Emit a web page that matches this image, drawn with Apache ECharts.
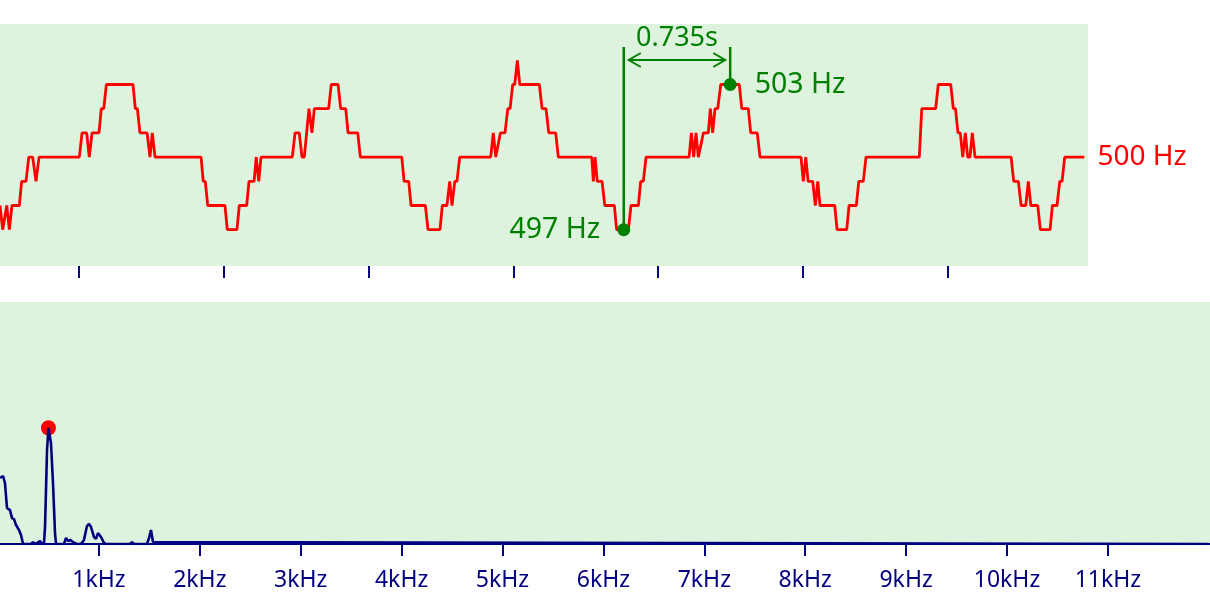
<!DOCTYPE html>
<html><head><meta charset="utf-8">
<script src="https://cdn.jsdelivr.net/npm/echarts@6/dist/echarts.min.js"></script>
<style>html,body{margin:0;padding:0;background:#fff}#c{width:1210px;height:605px}</style>
</head><body><div id="c"></div>
<script>
// ---- pitch track (seconds, Hz) ----
const pitchTimes = [0.454,0.473,0.501,0.519,0.537,0.588,0.604,0.634,0.653,0.680,0.703,0.724,1.002,1.021,1.053,1.071,1.090,1.138,1.154,1.171,1.189,1.373,1.389,1.403,1.421,1.470,1.490,1.506,1.525,1.843,1.858,1.872,1.889,2.008,2.024,2.091,2.107,2.158,2.174,2.209,2.224,2.241,2.257,2.473,2.492,2.521,2.540,2.556,2.588,2.609,2.625,2.724,2.742,2.789,2.807,2.842,2.858,2.925,2.943,3.229,3.245,3.277,3.293,3.392,3.410,3.493,3.509,3.541,3.560,3.576,3.595,3.610,3.629,3.843,3.861,3.878,3.910,3.942,3.961,3.977,3.995,4.009,4.027,4.044,4.179,4.198,4.225,4.244,4.292,4.310,4.541,4.552,4.564,4.579,4.612,4.631,4.697,4.713,4.794,4.812,4.863,4.879,4.897,4.916,5.213,5.229,5.245,5.261,5.277,5.312,5.346,5.360,5.376,5.392,5.411,5.432,5.560,5.577,5.622,5.639,5.684,5.703,5.986,6.002,6.019,6.035,6.067,6.085,6.102,6.117,6.219,6.235,6.302,6.318,6.368,6.385,6.416,6.435,6.803,6.820,6.916,6.934,7.020,7.038,7.053,7.070,7.086,7.103,7.121,7.137,7.153,7.169,7.188,7.437,7.455,7.487,7.506,7.538,7.556,7.573,7.621,7.639,7.706,7.722,7.754,7.773,7.789,7.807,7.943];
const pitchHz = [498,497,498,497,498,498,499,499,500,500,499,500,500,501,501,500,501,501,502,502,503,503,502,502,501,501,500,501,500,500,499,499,498,498,497,497,498,498,499,499,500,499,500,500,501,501,500,500,502,501,502,502,503,503,502,502,501,501,500,500,499,499,498,498,497,497,498,498,499,498,499,499,500,500,501,500,501,501,502,502,503,503,504,503,503,502,502,501,501,500,500,499,500,499,499,498,498,497,497,498,498,499,499,500,500,501,500,501,500,501,501,502,501,502,502,503,503,502,502,501,501,500,500,499,500,499,499,498,499,498,498,497,497,498,498,499,499,500,500,502,502,503,503,502,502,501,501,500,501,500,500,501,500,500,499,499,498,498,499,498,498,497,497,498,498,499,499,500,500];
const pitchTicks = [1,2,3,4,5,6,7];
const baseLabel = '500 Hz';
// measured extremes
const markTimes = [4.762, 5.497];
const markHz = [497, 503];
// ---- spectrum (kHz, amplitude) ----
const specKHz = [0.020,0.050,0.069,0.089,0.099,0.119,0.139,0.159,0.178,0.208,0.228,0.248,0.327,0.347,0.367,0.416,0.436,0.456,0.466,0.486,0.500,0.525,0.545,0.565,0.575,0.654,0.674,0.694,0.714,0.743,0.783,0.823,0.852,0.882,0.902,0.922,0.951,0.971,0.991,1.021,1.051,1.071,1.308,1.328,1.348,1.477,1.497,1.516,1.536,1.546,12.0];
const specAmp = [27.3,28.1,25.2,14.9,14.9,14.0,10.7,10.3,7.9,5.8,3.7,0,0,0.8,0,1.2,0,0.4,7.0,38.8,47.9,41.7,25.2,4.5,0,0,2.5,1.2,1.7,0.8,0,0,1.7,7.4,8.3,7.0,2.9,2.1,4.5,2.9,0.4,0,0,0.8,0,0,2.5,5.8,0.8,0,0];
const peakKHz = 0.5, peakAmp = 48;
const freqTicks = [1,2,3,4,5,6,7,8,9,10,11];
const freqUnit = 'kHz';

const FONT = '"Noto Sans", "Open Sans", sans-serif';
const NAVY = '#000080', GREEN = '#008000', RED = '#ff0000', BG = '#def3de';

const chart = echarts.init(document.getElementById('c'), null, {renderer: 'canvas'});
const pitchData = pitchTimes.map((t, i) => [t, pitchHz[i]]);
const specData = specKHz.map((f, i) => [f, specAmp[i]]);

chart.setOption({
  animation: false,
  grid: [
    {left: 0, top: 24, width: 1088, height: 242, show: true, backgroundColor: BG, borderWidth: 0},
    {left: 0, top: 302, width: 1210, height: 242, show: true, backgroundColor: BG, borderWidth: 0}
  ],
  xAxis: [
    {type: 'value', gridIndex: 0, min: 0.4544, max: 7.968,
     axisLine: {show: false}, splitLine: {show: false}, axisLabel: {show: false},
     axisTick: {show: true, length: 12, customValues: pitchTicks, lineStyle: {color: NAVY, width: 2}}},
    {type: 'value', gridIndex: 1, min: 0.0198, max: 12.012,
     axisLine: {show: true, lineStyle: {color: NAVY, width: 2}}, splitLine: {show: false},
     axisTick: {show: true, length: 12, customValues: freqTicks, lineStyle: {color: NAVY, width: 2}},
     axisLabel: {show: true, customValues: freqTicks, margin: 25, color: NAVY, fontSize: 23, fontFamily: FONT,
       formatter: v => v + freqUnit}}
  ],
  yAxis: [
    {type: 'value', gridIndex: 0, min: 495.5, max: 505.5, show: false},
    {type: 'value', gridIndex: 1, min: 0, max: 100, show: false}
  ],
  series: [
    {type: 'line', xAxisIndex: 0, yAxisIndex: 0, data: pitchData, showSymbol: false, symbol: 'none', z: 2,
     lineStyle: {color: RED, width: 2.8}, clip: false,
     endLabel: {show: true, formatter: baseLabel, color: RED, fontSize: 28, fontFamily: FONT, distance: 13}},
    {type: 'custom', xAxisIndex: 0, yAxisIndex: 0, z: 3, clip: false,
     data: [[markTimes[0], markHz[0], markTimes[1], markHz[1]]],
     encode: {x: [0, 2], y: [1, 3]},
     renderItem: function (params, api) {
       const a = api.coord([api.value(0), api.value(1)]);
       const b = api.coord([api.value(2), api.value(3)]);
       const top = params.coordSys.y + 23;
       const ay = params.coordSys.y + 36;
       const la = a[0] + 5, rb = b[0] - 5;
       const ls = {stroke: GREEN, lineWidth: 2.5};
       const ls2 = {stroke: GREEN, lineWidth: 2, fill: null};
       return {type: 'group', children: [
         {type: 'line', shape: {x1: a[0], y1: top, x2: a[0], y2: a[1]}, style: ls},
         {type: 'line', shape: {x1: b[0], y1: top, x2: b[0], y2: b[1]}, style: ls},
         {type: 'line', shape: {x1: la, y1: ay, x2: rb, y2: ay}, style: ls2},
         {type: 'polyline', shape: {points: [[la + 12, ay - 7], [la, ay], [la + 12, ay + 7]]}, style: ls2},
         {type: 'polyline', shape: {points: [[rb - 12, ay - 7], [rb, ay], [rb - 12, ay + 7]]}, style: ls2},
         {type: 'text', style: {text: (api.value(2) - api.value(0)).toFixed(3) + 's',
           x: (a[0] + b[0]) / 2, y: ay - 22, align: 'center', verticalAlign: 'middle',
           fill: GREEN, fontSize: 27, fontFamily: FONT}}
       ]};
     }},
    {type: 'scatter', xAxisIndex: 0, yAxisIndex: 0, z: 4, symbolSize: 13,
     itemStyle: {color: GREEN, opacity: 1},
     data: markTimes.map((t, i) => ({value: [t, markHz[i]],
       label: {show: true, position: i === 0 ? 'left' : 'right', distance: i === 0 ? 17 : 18,
         formatter: markHz[i] + ' Hz', color: GREEN, opacity: 1, fontSize: 28.5, fontFamily: FONT}}))},
    {type: 'scatter', xAxisIndex: 1, yAxisIndex: 1, z: 1, symbolSize: 15,
     itemStyle: {color: RED, opacity: 1}, data: [[peakKHz, peakAmp]]},
    {type: 'line', xAxisIndex: 1, yAxisIndex: 1, z: 2, data: specData, showSymbol: false, symbol: 'none',
     lineStyle: {color: NAVY, width: 2.6}}
  ]
});
</script></body></html>
